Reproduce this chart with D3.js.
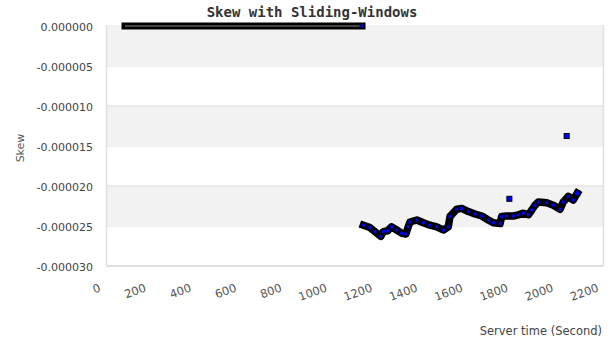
<!DOCTYPE html>
<html>
<head>
<meta charset="utf-8">
<script src="https://cdn.jsdelivr.net/npm/d3@7"></script>
<style>
  html, body { margin: 0; padding: 0; background: #fff; }
  svg { display: block; }
</style>
</head>
<body>
<div id="chart"></div>
<script>
// Skew measured over sliding windows, plotted against server time.
const chartTitle = "Skew with Sliding-Windows";
const xTitle = "Server time (Second)";
const yTitle = "Skew";

const xTicks = [0, 200, 400, 600, 800, 1000, 1200, 1400, 1600, 1800, 2000, 2200];
const yTicks = [0, -0.000005, -0.00001, -0.000015, -0.00002, -0.000025, -0.00003];
const yTickLabels = ["0.000000", "-0.000005", "-0.000010", "-0.000015", "-0.000020", "-0.000025", "-0.000030"];

// Warm-up period: skew stays at zero
const warmTime = [84, 274, 1131];
const warmSkew = [0, 0, 0];

// Sliding-window skew once the window is filled
const skewTime = [1137, 1166, 1188, 1214, 1225, 1244, 1262, 1284, 1306, 1325, 1335, 1343, 1373, 1402, 1431,
  1461, 1490, 1512, 1520, 1549, 1571, 1601, 1630, 1660, 1689, 1711, 1741, 1748, 1770, 1799, 1821, 1844,
  1866, 1881, 1895, 1910, 1947, 1976, 2006, 2020, 2042, 2064, 2082];
const skewValue = [-0.0000249, -0.0000252, -0.0000257, -0.0000263, -0.0000257, -0.0000256, -0.0000251,
  -0.0000255, -0.0000259, -0.0000260, -0.0000251, -0.0000245, -0.00002425, -0.0000246, -0.0000249,
  -0.0000251, -0.0000255, -0.0000251, -0.0000238, -0.0000229, -0.0000228, -0.0000232, -0.0000235,
  -0.00002375, -0.00002425, -0.0000246, -0.0000247, -0.0000238, -0.00002375, -0.00002375, -0.0000236,
  -0.0000234, -0.0000236, -0.0000230, -0.0000224, -0.0000220, -0.0000221, -0.0000224, -0.0000229,
  -0.0000220, -0.0000213, -0.00002175, -0.0000209];

// Isolated readings away from the main trend
const spikeTime = [1782, 2035];
const spikeValue = [-0.0000216, -0.00001375];

const W = 613, H = 343;
const margin = { left: 106, right: 9, top: 26, bottom: 77 };

const svg = d3.select("#chart").append("svg")
  .attr("width", W).attr("height", H)
  .style("font-family", "'DejaVu Sans', sans-serif");

const x = d3.scaleLinear().domain([0, 2200]).range([margin.left, W - margin.right]);
const y = d3.scaleLinear().domain([-0.00003, 0]).range([H - margin.bottom, margin.top]);

// Alternating horizontal bands
const bands = d3.range(yTicks.length - 1).map(i => ({ top: yTicks[i], bottom: yTicks[i + 1], i }));
svg.append("g").selectAll("rect").data(bands).join("rect")
  .attr("x", x(0)).attr("width", x(2200) - x(0))
  .attr("y", d => y(d.top) - 1).attr("height", d => y(d.bottom) - y(d.top))
  .attr("fill", d => d.i % 2 === 0 ? "#f2f2f2" : "#ffffff");

// Gridlines
svg.append("g").selectAll("line").data(yTicks.slice(1, -1)).join("line")
  .attr("x1", x(0)).attr("x2", x(2200))
  .attr("y1", d => y(d)).attr("y2", d => y(d))
  .attr("stroke", "#e3e3e3").attr("stroke-width", 1);

// Plot frame: left, right, bottom
const frame = svg.append("g").attr("stroke", "#e0e0e0").attr("fill", "none");
frame.append("line").attr("x1", x(0) + 0.5).attr("x2", x(0) + 0.5).attr("y1", y(0) - 1).attr("y2", y(-0.00003)).attr("stroke-width", 1.5);
frame.append("line").attr("x1", x(2200) - 0.5).attr("x2", x(2200) - 0.5).attr("y1", y(0) - 1).attr("y2", y(-0.00003)).attr("stroke-width", 1.5);
frame.append("line").attr("x1", x(0)).attr("x2", x(2200)).attr("y1", y(-0.00003)).attr("y2", y(-0.00003)).attr("stroke-width", 2);

// Y axis labels
const yAxis = d3.axisLeft(y).tickValues(yTicks).tickSize(0).tickPadding(13)
  .tickFormat((d, i) => yTickLabels[i]);
svg.append("g").attr("transform", `translate(${x(0)},1)`).call(yAxis)
  .call(g => g.select(".domain").remove())
  .selectAll("text").attr("fill", "#444").style("font-size", "11px")
  .style("font-family", "'DejaVu Sans', sans-serif");

// X axis labels, tilted
const xAxis = d3.axisBottom(x).tickValues(xTicks).tickSize(0).tickFormat(d3.format("d"));
svg.append("g").attr("transform", `translate(0,${y(-0.00003)})`).call(xAxis)
  .call(g => g.select(".domain").remove())
  .selectAll("text")
  .attr("fill", "#555").style("font-size", "11.5px").style("font-family", "'DejaVu Sans', sans-serif")
  .attr("text-anchor", "end").attr("dy", null).attr("y", null)
  .attr("transform", "translate(-5,25) rotate(-20)");

// Titles
svg.append("text").attr("x", 312).attr("y", 17).attr("text-anchor", "middle")
  .attr("fill", "#333").style("font-family", "'DejaVu Sans Mono', monospace")
  .style("font-weight", "bold").style("font-size", "14px").text(chartTitle);
svg.append("text").attr("x", 602).attr("y", 335).attr("text-anchor", "end")
  .attr("fill", "#444").style("font-size", "11.5px").text(xTitle);
svg.append("text").attr("transform", "translate(24,148) rotate(-90)").attr("text-anchor", "middle")
  .attr("fill", "#555").style("font-size", "11px").text(yTitle);

// Series: dense markers merge into a dark band
const line = d3.line().x(d => x(d[0])).y(d => y(d[1]));
const warm = warmTime.map((t, i) => [t, warmSkew[i]]);
const main = skewTime.map((t, i) => [t, skewValue[i]]);
const spikes = spikeTime.map((t, i) => [t, spikeValue[i]]);

svg.append("path").datum(warm).attr("d", line)
  .attr("fill", "none").attr("stroke", "#000").attr("stroke-width", 7).attr("stroke-linecap", "square");
svg.append("path").datum(warm).attr("d", line)
  .attr("fill", "none").attr("stroke", "#8a8a8a").attr("stroke-width", 1);
svg.append("path").datum(main).attr("d", line)
  .attr("fill", "none").attr("stroke", "#000").attr("stroke-width", 7.5)
  .attr("stroke-linejoin", "round").attr("stroke-linecap", "square");

function markers(data, s) {
  svg.append("g").selectAll("rect").data(data).join("rect")
    .attr("x", d => x(d[0]) - s / 2).attr("y", d => y(d[1]) - s / 2)
    .attr("width", s).attr("height", s)
    .attr("fill", "#0000ff").attr("stroke", "#000").attr("stroke-width", 1);
}
markers([warm[warm.length - 1]], 4);
markers(main.slice(0, -1), 4);
markers([main[main.length - 1]], 5);
markers(spikes, 5);
</script>
</body>
</html>
